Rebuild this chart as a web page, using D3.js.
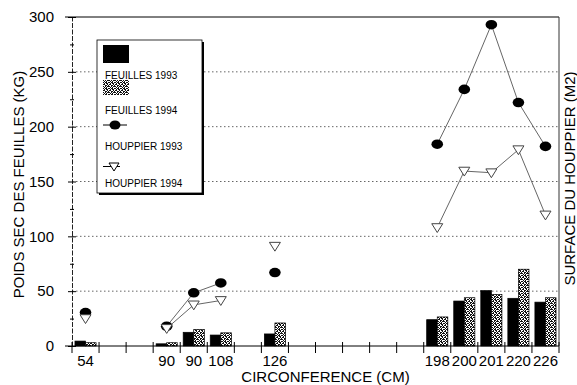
<!DOCTYPE html>
<html>
<head>
<meta charset="utf-8">
<script src="https://cdn.jsdelivr.net/npm/d3@7"></script>
<style>
  body { margin: 0; background: #fff; }
  text { font-family: "Liberation Sans", Arial, sans-serif; fill: #000; }
  .tick-label { font-size: 15px; }
  .axis-title { font-size: 15px; }
  .legend-text { font-size: 10px; }
</style>
</head>
<body>
<svg id="chart"></svg>
<script>
// svg size and plot margins
const width = 577;
const height = 385;

const margin = {
  top: 17,
  bottom: 39,
  left: 72,
  right: 18
};

// x slots, blank ones are gaps on the axis
const categories = ['54', '', '', '90', '90', '108', '', '126', '', '', '', '', '', '198', '200', '201', '220', '226'];

// leaf dry weight (kg)
const feuilles1993 = [4.5, null, null, 2, 12.5, 10, null, 11, null, null, null, null, null, 24, 41, 50.5, 43.5, 40];
const feuilles1994 = [3, null, null, 3, 15, 12, null, 21, null, null, null, null, null, 26.5, 44, 47, 70, 44];

// crown surface (m2)
const houppier1993 = [30.5, null, null, 18, 48.5, 57.5, null, 67, null, null, null, null, null, 184, 234, 293, 222, 182];
const houppier1994 = [25, null, null, 16, 37.5, 41.5, null, 91, null, null, null, null, null, 108, 159.5, 158, 179, 119.5];

const yTicks = [0, 50, 100, 150, 200, 250, 300];
const yMinorTicks = [25, 75, 125, 175, 225, 275];
const gridValues = [50, 100, 150, 200, 250];

const plotWidth = width - margin.left - margin.right;
const plotHeight = height - margin.top - margin.bottom;

const svg = d3.select('#chart')
  .attr('width', width)
  .attr('height', height);

// stippled pattern for the 1994 leaf bars
const stippleMap = [
  '101101',
  '010110',
  '110010',
  '001101',
  '101011',
  '010100'
];
const defs = svg.append('defs');
const pat = defs.append('pattern')
  .attr('id', 'stipple')
  .attr('patternUnits', 'userSpaceOnUse')
  .attr('width', 6)
  .attr('height', 6);
pat.append('rect').attr('width', 6).attr('height', 6).attr('fill', '#fff');
stippleMap.forEach((row, y) => {
  row.split('').forEach((c, x) => {
    if (c === '1') {
      pat.append('rect').attr('x', x).attr('y', y).attr('width', 1).attr('height', 1).attr('fill', '#111');
    }
  });
});

const plot = svg.append('g')
  .attr('id', 'plot')
  .attr('transform', translate(margin.left, margin.top));

const slots = categories.map((c, i) => i);

const scales = {
  x: d3.scaleBand().domain(slots).range([0, plotWidth]).padding(0),
  y: d3.scaleLinear().domain([0, 300]).range([plotHeight, 0]),
  sub: d3.scaleBand().domain(['f93', 'f94'])
};
scales.sub.range([0, scales.x.bandwidth()]).paddingInner(0).paddingOuter(0.28);

drawGrid();
drawBars();
drawLines();
drawAxis();
drawTitles();
drawLegend();

function drawGrid() {
  plot.append('g')
    .attr('id', 'grid')
    .selectAll('line')
    .data(gridValues)
    .enter()
    .append('line')
    .attr('x1', 0)
    .attr('x2', plotWidth)
    .attr('y1', d => scales.y(d))
    .attr('y2', d => scales.y(d))
    .attr('stroke', '#555')
    .attr('stroke-width', 0.9)
    .attr('stroke-dasharray', '1.5,2.5');
}

function drawBars() {
  const group = plot.append('g').attr('id', 'bars');

  const series = [
    { key: 'f93', values: feuilles1993, fill: '#000' },
    { key: 'f94', values: feuilles1994, fill: 'url(#stipple)' }
  ];

  series.forEach(s => {
    group.append('g')
      .selectAll('rect')
      .data(slots.filter(i => s.values[i] != null))
      .enter()
      .append('rect')
      .attr('x', i => scales.x(i) + scales.sub(s.key))
      .attr('y', i => scales.y(s.values[i]))
      .attr('width', scales.sub.bandwidth())
      .attr('height', i => scales.y(0) - scales.y(s.values[i]))
      .attr('fill', s.fill)
      .attr('stroke', '#000')
      .attr('stroke-width', 0.7);
  });
}

function drawLines() {
  const group = plot.append('g').attr('id', 'lines');
  const cx = i => scales.x(i) + scales.x.bandwidth() / 2;

  const line = values => d3.line()
    .defined(i => values[i] != null)
    .x(cx)
    .y(i => scales.y(values[i]))(slots);

  group.append('path')
    .attr('d', line(houppier1993))
    .attr('fill', 'none')
    .attr('stroke', '#666')
    .attr('stroke-width', 1);

  group.append('path')
    .attr('d', line(houppier1994))
    .attr('fill', 'none')
    .attr('stroke', '#666')
    .attr('stroke-width', 1);

  group.append('g')
    .selectAll('ellipse')
    .data(slots.filter(i => houppier1993[i] != null))
    .enter()
    .append('ellipse')
    .attr('cx', cx)
    .attr('cy', i => scales.y(houppier1993[i]))
    .attr('rx', 5.8)
    .attr('ry', 4.8)
    .attr('fill', '#000');

  group.append('g')
    .selectAll('path')
    .data(slots.filter(i => houppier1994[i] != null))
    .enter()
    .append('path')
    .attr('d', triangleDown(5.5))
    .attr('transform', i => translate(cx(i), scales.y(houppier1994[i])))
    .attr('fill', '#fff')
    .attr('stroke', '#444')
    .attr('stroke-width', 1);
}

function drawAxis() {
  // frame: top and right edges
  plot.append('line')
    .attr('x1', -7).attr('x2', plotWidth)
    .attr('y1', 0).attr('y2', 0)
    .attr('stroke', '#000');
  plot.append('line')
    .attr('x1', plotWidth).attr('x2', plotWidth)
    .attr('y1', 0).attr('y2', plotHeight)
    .attr('stroke', '#333');

  // left axis
  const yGroup = plot.append('g').attr('id', 'y-axis');
  const yAxis = d3.axisLeft(scales.y)
    .tickValues(yTicks)
    .tickSizeInner(4)
    .tickSizeOuter(0)
    .tickPadding(14);
  yGroup.call(yAxis);
  yGroup.select('.domain').attr('stroke', '#222').attr('stroke-dasharray', '5,1.5');
  yGroup.selectAll('.tick line').attr('x1', 4);
  yGroup.selectAll('.tick text')
    .attr('class', 'tick-label')
    .attr('font-size', null)
    .attr('font-family', null);

  const yMinor = plot.append('g').attr('id', 'y-minor');
  yMinor.call(d3.axisLeft(scales.y).tickValues(yMinorTicks).tickSize(2).tickFormat(''));
  yMinor.select('.domain').remove();
  yMinor.selectAll('.tick line').attr('x1', 2);

  // bottom axis
  const xGroup = plot.append('g')
    .attr('id', 'x-axis')
    .attr('transform', translate(0, plotHeight));
  const xAxis = d3.axisBottom(scales.x)
    .tickSize(0)
    .tickPadding(9)
    .tickFormat(i => categories[i]);
  xGroup.call(xAxis);
  xGroup.select('.domain').attr('d', 'M-7,0H' + plotWidth).attr('stroke', '#000');
  xGroup.selectAll('.tick text')
    .attr('class', 'tick-label')
    .attr('font-size', null)
    .attr('font-family', null);

  // slot boundary ticks
  xGroup.append('g')
    .selectAll('line')
    .data(d3.range(categories.length + 1))
    .enter()
    .append('line')
    .attr('x1', i => i * scales.x.step())
    .attr('x2', i => i * scales.x.step())
    .attr('y1', -4)
    .attr('y2', 7)
    .attr('stroke', '#000');
}

function drawTitles() {
  const xMiddle = margin.left + midpoint(scales.x.range());
  const yMiddle = margin.top + midpoint(scales.y.range());

  svg.append('text')
    .attr('class', 'axis-title')
    .attr('x', xMiddle + 10)
    .attr('y', height - 3)
    .attr('text-anchor', 'middle')
    .text('CIRCONFERENCE (CM)');

  svg.append('g')
    .attr('transform', translate(24, yMiddle + 3))
    .append('text')
    .attr('class', 'axis-title')
    .attr('text-anchor', 'middle')
    .attr('transform', 'rotate(-90)')
    .attr('font-size', 16)
    .text('POIDS SEC DES FEUILLES (KG)');

  svg.append('g')
    .attr('transform', translate(575, yMiddle - 3))
    .append('text')
    .attr('class', 'axis-title')
    .attr('text-anchor', 'middle')
    .attr('transform', 'rotate(-90)')
    .attr('font-size', 16)
    .text('SURFACE DU HOUPPIER (M2)');
}

function drawLegend() {
  const group = svg.append('g')
    .attr('id', 'legend')
    .attr('transform', translate(97, 40));

  // shadow then box
  group.append('rect')
    .attr('x', 2).attr('y', 2)
    .attr('width', 105).attr('height', 153)
    .attr('fill', '#000');
  group.append('rect')
    .attr('width', 105).attr('height', 153)
    .attr('fill', '#fff')
    .attr('stroke', '#000')
    .attr('stroke-width', 0.8);

  group.append('rect')
    .attr('x', 6).attr('y', 5).attr('width', 26).attr('height', 18)
    .attr('fill', '#000');
  group.append('text').attr('class', 'legend-text')
    .attr('x', 8).attr('y', 39).text('FEUILLES 1993');

  group.append('rect')
    .attr('x', 6).attr('y', 40).attr('width', 26).attr('height', 15)
    .attr('fill', 'url(#stipple)');
  group.append('text').attr('class', 'legend-text')
    .attr('x', 8).attr('y', 74).text('FEUILLES 1994');

  group.append('line')
    .attr('x1', 6).attr('x2', 30).attr('y1', 85).attr('y2', 85)
    .attr('stroke', '#000');
  group.append('ellipse')
    .attr('cx', 18).attr('cy', 85).attr('rx', 5.5).attr('ry', 4.5)
    .attr('fill', '#000');
  group.append('text').attr('class', 'legend-text')
    .attr('x', 8).attr('y', 110).text('HOUPPIER 1993');

  group.append('line')
    .attr('x1', 6).attr('x2', 31).attr('y1', 126.5).attr('y2', 126.5)
    .attr('stroke', '#000')
    .attr('stroke-dasharray', '10,4,3,10');
  group.append('path')
    .attr('d', triangleDown(5))
    .attr('transform', translate(17, 126.5))
    .attr('fill', '#fff')
    .attr('stroke', '#000');
  group.append('text').attr('class', 'legend-text')
    .attr('x', 8).attr('y', 146.5).text('HOUPPIER 1994');
}

/*
 * path for a downward pointing triangle centred on the origin
 */
function triangleDown(r) {
  return 'M' + (-r) + ',' + (-r * 0.7) + 'L' + r + ',' + (-r * 0.7) + 'L0,' + (r * 0.9) + 'Z';
}

function midpoint(range) {
  return range[0] + (range[1] - range[0]) / 2.0;
}

function translate(x, y) {
  return 'translate(' + String(x) + ',' + String(y) + ')';
}
</script>
</body>
</html>
